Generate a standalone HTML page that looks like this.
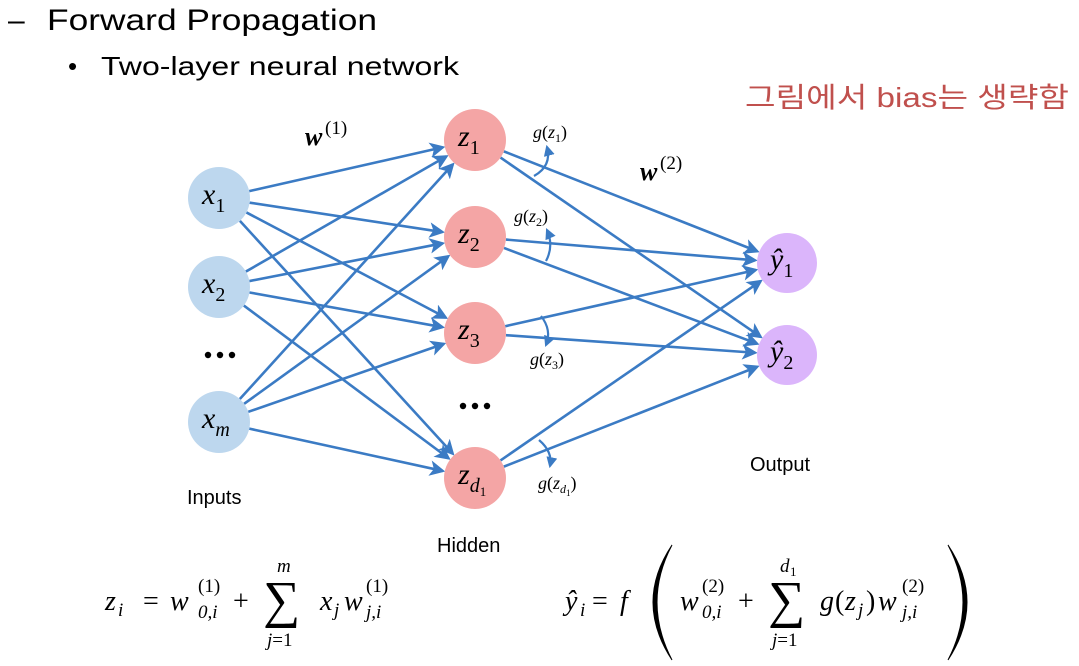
<!DOCTYPE html>
<html><head><meta charset="utf-8"><style>
html,body{margin:0;padding:0;background:#fff;}
svg{display:block;}
.t{font-family:"Liberation Sans","Noto Sans CJK KR",sans-serif;}
.m{font-family:"Liberation Serif","DejaVu Serif",serif;font-style:italic;}
.n{font-family:"Liberation Serif","DejaVu Serif",serif;}
</style></head><body>
<svg id="s" width="1079" height="666" viewBox="0 0 1079 666" xmlns="http://www.w3.org/2000/svg">
<defs>
<marker id="ah" markerWidth="6" markerHeight="6" refX="5" refY="3" orient="auto" markerUnits="strokeWidth">
<path d="M0,0 L6,3 L0,6 L1.5,3 z" fill="#3b7bc4"/></marker>
<marker id="sa" markerWidth="5" markerHeight="5" refX="4" refY="2.5" orient="auto" markerUnits="strokeWidth">
<path d="M0,0 L5,2.5 L0,5 z" fill="#3b7bc4"/></marker>
</defs>
<text class="t" x="8" y="30" font-size="30">–</text>
<text class="t" x="47" y="30" font-size="30" textLength="330" lengthAdjust="spacingAndGlyphs">Forward Propagation</text>
<text class="t" x="68" y="75" font-size="26">•</text>
<text class="t" x="101" y="75" font-size="26" textLength="358" lengthAdjust="spacingAndGlyphs">Two-layer neural network</text>
<text class="t" x="745" y="107" font-size="28" fill="#c0504d" textLength="324" lengthAdjust="spacingAndGlyphs">그림에서 bias는 생략함</text>
<g id="lines" stroke="#3b7bc4" stroke-width="2.6" fill="none"></g>
<g id="nodes"></g>
<g fill="#000">
<circle cx="208" cy="355" r="3.2"/><circle cx="220" cy="355" r="3.2"/><circle cx="232" cy="355" r="3.2"/>
<circle cx="463" cy="406" r="3.2"/><circle cx="475" cy="406" r="3.2"/><circle cx="487" cy="406" r="3.2"/>
</g>
<g stroke="#3b7bc4" stroke-width="2.2" fill="none">
<path d="M534,176 Q552,166 547,147" marker-end="url(#sa)"/>
<path d="M546,261 Q554,246 547,230" marker-end="url(#sa)"/>
<path d="M541,316 Q552,330 546,345" marker-end="url(#sa)"/>
<path d="M539,440 Q553,452 550,466" marker-end="url(#sa)"/>
</g>
<g class="m" font-size="18">
<text x="533" y="138">g<tspan class="n" font-style="normal">(</tspan>z<tspan font-size="12" dy="4" font-style="normal">1</tspan><tspan dy="-4" font-style="normal">)</tspan></text>
<text x="514" y="222">g<tspan font-style="normal">(</tspan>z<tspan font-size="12" dy="4" font-style="normal">2</tspan><tspan dy="-4" font-style="normal">)</tspan></text>
<text x="530" y="365">g<tspan font-style="normal">(</tspan>z<tspan font-size="12" dy="4" font-style="normal">3</tspan><tspan dy="-4" font-style="normal">)</tspan></text>
<text x="538" y="489">g<tspan font-style="normal">(</tspan>z<tspan font-size="12" dy="4">d</tspan><tspan font-size="9" dy="3" font-style="normal">1</tspan><tspan dy="-7" font-style="normal">)</tspan></text>
</g>
<text class="m" x="305" y="145" font-size="26" font-weight="bold">w</text>
<text class="n" x="325" y="134" font-size="19">(1)</text>
<text class="m" x="640" y="180" font-size="26" font-weight="bold">w</text>
<text class="n" x="660" y="169" font-size="19">(2)</text>
<text class="t" x="187" y="504" font-size="20">Inputs</text>
<text class="t" x="437" y="552" font-size="20">Hidden</text>
<text class="t" x="750" y="471" font-size="20">Output</text>
<g font-size="28">
<text class="m" x="105" y="610">z</text><text class="m" x="118" y="616" font-size="19">i</text>
<text class="n" x="143" y="610">=</text>
<text class="m" x="170" y="610">w</text>
<text class="n" x="198" y="592" font-size="19">(1)</text>
<text class="m" x="198" y="618" font-size="19">0,i</text>
<text class="n" x="233" y="610">+</text>
<text class="n" x="263" y="617" font-size="52">∑</text>
<text class="m" x="277" y="572" font-size="19">m</text>
<text class="m" x="267" y="646" font-size="19">j<tspan class="n" font-style="normal">=1</tspan></text>
<text class="m" x="320" y="610">x</text><text class="m" x="334" y="616" font-size="19">j</text>
<text class="m" x="344" y="610">w</text>
<text class="n" x="366" y="592" font-size="19">(1)</text>
<text class="m" x="366" y="618" font-size="19">j,i</text>
</g>
<g font-size="28">
<text class="m" x="565" y="610">ŷ</text><text class="m" x="580" y="616" font-size="19">i</text>
<text class="n" x="592" y="610">=</text>
<text class="m" x="620" y="610">f</text>
<path d="M672,545 Q634,602 672,660 Q642,602 672,545 z" fill="#000" stroke="#000" stroke-width="1"/>
<text class="m" x="680" y="610">w</text>
<text class="n" x="702" y="592" font-size="19">(2)</text>
<text class="m" x="702" y="618" font-size="19">0,i</text>
<text class="n" x="738" y="610">+</text>
<text class="n" x="768" y="617" font-size="52">∑</text>
<text class="m" x="780" y="572" font-size="19">d</text><text class="n" x="790" y="576" font-size="13">1</text>
<text class="m" x="772" y="646" font-size="19">j<tspan class="n" font-style="normal">=1</tspan></text>
<text class="m" x="820" y="610">g</text>
<text class="n" x="835" y="610">(</text>
<text class="m" x="845" y="610">z</text><text class="m" x="858" y="616" font-size="19">j</text>
<text class="n" x="866" y="610">)</text>
<text class="m" x="878" y="610">w</text>
<text class="n" x="902" y="592" font-size="19">(2)</text>
<text class="m" x="902" y="618" font-size="19">j,i</text>
<path d="M948,545 Q986,602 948,660 Q978,602 948,545 z" fill="#000" stroke="#000" stroke-width="1"/>
</g>
</svg>
<script>
var NS="http://www.w3.org/2000/svg";
var inp=[[219,198,"x","1"],[219,287,"x","2"],[219,422,"x","m"]];
var hid=[[475,140,"z","1"],[475,237,"z","2"],[475,333,"z","3"],[475,478,"z","d"]];
var out=[[787,263,"ŷ","1"],[787,355,"ŷ","2"]];
var L=document.getElementById("lines"),N=document.getElementById("nodes");
function line(a,b,r1,r2){var dx=b[0]-a[0],dy=b[1]-a[1],d=Math.hypot(dx,dy);
var l=document.createElementNS(NS,"line");
l.setAttribute("x1",a[0]+dx/d*r1);l.setAttribute("y1",a[1]+dy/d*r1);
l.setAttribute("x2",b[0]-dx/d*(r2+2));l.setAttribute("y2",b[1]-dy/d*(r2+2));
l.setAttribute("marker-end","url(#ah)");L.appendChild(l);}
inp.forEach(function(a){hid.forEach(function(b){line(a,b,31,31);});});
hid.forEach(function(a){out.forEach(function(b){line(a,b,31,30);});});
function node(n,r,fill){var c=document.createElementNS(NS,"circle");
c.setAttribute("cx",n[0]);c.setAttribute("cy",n[1]);c.setAttribute("r",r);c.setAttribute("fill",fill);N.appendChild(c);
var t=document.createElementNS(NS,"text");t.setAttribute("class","m");t.setAttribute("font-size","30");
t.setAttribute("x",n[0]-17);t.setAttribute("y",n[1]+6);
var sub=n[3];
if(sub=="d"){t.innerHTML=n[2]+'<tspan font-size="20" dy="8">d</tspan><tspan font-size="13" dy="4" font-style="normal">1</tspan>';}
else{t.innerHTML=n[2]+'<tspan font-size="20" dy="8"'+(sub=="m"?'':' font-style="normal"')+'>'+sub+'</tspan>';}
N.appendChild(t);}
inp.forEach(function(n){node(n,31,"#bdd7ee");});
hid.forEach(function(n){node(n,31,"#f4a5a5");});
out.forEach(function(n){node(n,30,"#dbb5fb");});
</script>
</body></html>
